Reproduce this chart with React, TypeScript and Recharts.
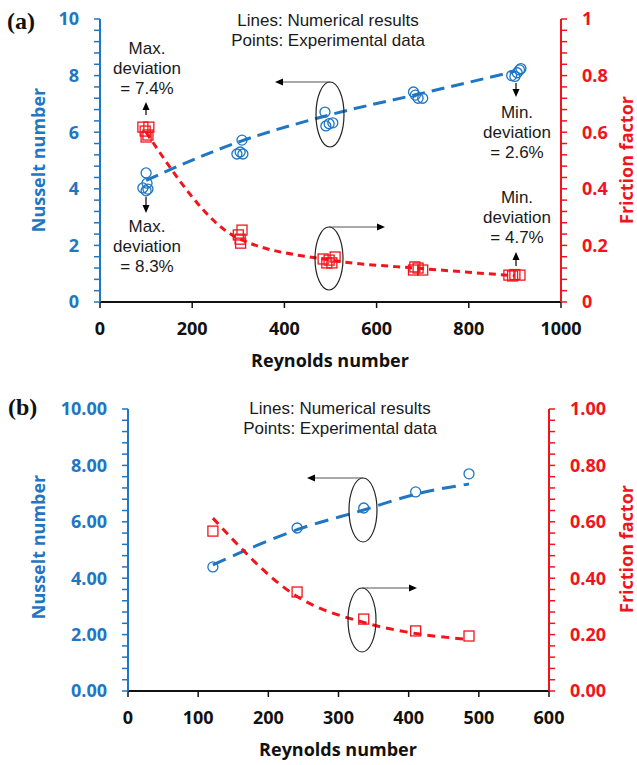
import React from "react";
import { ComposedChart, XAxis, YAxis, Line, Scatter } from "recharts";

const BLUE = "#1f76c2";
const RED = "#f2141c";
const FONT = "'Open Sans', 'Noto Sans', sans-serif";
const ARIAL = "'Liberation Sans', Arial, sans-serif";

// panel (a): experimental Nusselt number
const aNuExpRe = [93, 100, 102, 104, 100, 297, 304, 308, 310, 488, 490, 497, 505, 680, 684, 690, 700, 893, 900, 905, 910, 913];
const aNuExp = [4.03, 4.56, 4.2, 3.99, 3.93, 5.23, 5.3, 5.72, 5.23, 6.71, 6.22, 6.3, 6.33, 7.42, 7.31, 7.2, 7.2, 8.0, 7.97, 8.1, 8.2, 8.25];
// panel (a): experimental friction factor
const aFExpRe = [93, 98, 100, 104, 106, 300, 304, 305, 308, 484, 492, 497, 503, 510, 680, 683, 690, 700, 887, 895, 900, 911];
const aFExp = [0.618, 0.604, 0.583, 0.59, 0.618, 0.237, 0.222, 0.208, 0.254, 0.152, 0.138, 0.148, 0.138, 0.159, 0.113, 0.124, 0.12, 0.113, 0.095, 0.092, 0.097, 0.095];
// panel (a): numerical results
const aRe = [100, 300, 500, 700, 900];
const aNuNum = [4.3, 5.65, 6.62, 7.38, 8.15];
const aFNum = [0.6, 0.225, 0.148, 0.118, 0.093];

// panel (b)
const bRe = [121, 241, 336, 410, 486];
const bNuExp = [4.4, 5.78, 6.49, 7.06, 7.7];
const bFExp = [0.567, 0.351, 0.255, 0.213, 0.195];
const bNuNum = [4.47, 5.72, 6.42, 6.98, 7.34];
const bFNum = [0.613, 0.335, 0.243, 0.204, 0.183];

const aXTicks = [0, 200, 400, 600, 800, 1000];
const bXTicks = [0, 100, 200, 300, 400, 500, 600];
const nuTicks = Array.from({ length: 26 }, (_, i) => +(i * 0.4).toFixed(2));
const fTicks = Array.from({ length: 26 }, (_, i) => +(i * 0.04).toFixed(2));

const zip = (xs: number[], ys: number[]) => xs.map((re, i) => ({ re, y: ys[i] }));

const CircleMark = (p: any) => (
  <circle cx={p.cx} cy={p.cy} r={5} fill="none" stroke={BLUE} strokeWidth={1.3} />
);
const SquareMark = (p: any) => (
  <rect x={p.cx - 5} y={p.cy - 5} width={10} height={10} fill="none" stroke={RED} strokeWidth={1.3} />
);

const tickStyle = (fill: string) => ({ fill, fontSize: 18, fontWeight: 700, fontFamily: FONT });

function Arrow({ x1, y1, x2, y2, line = "#000" }: any) {
  const a = Math.atan2(y2 - y1, x2 - x1);
  const c = Math.cos(a), s = Math.sin(a);
  const bx = x2 - 8 * c, by = y2 - 8 * s;
  return (
    <g>
      <line x1={x1} y1={y1} x2={bx} y2={by} stroke={line} strokeWidth={1.2} />
      <polygon points={`${x2},${y2} ${bx - 3.5 * s},${by + 3.5 * c} ${bx + 3.5 * s},${by - 3.5 * c}`} fill="#000" />
    </g>
  );
}

function Note({ x, y, lines }: { x: number; y: number; lines: string[] }) {
  return (
    <g>
      {lines.map((t, i) => (
        <text key={i} x={x} y={y + i * 20} dy="0.35em" textAnchor="middle" fontSize={17} fontFamily={ARIAL} fill="#1a1a1a">
          {t}
        </text>
      ))}
    </g>
  );
}

function VTitle({ x, y, text, color }: any) {
  return (
    <text x={x} y={y} dy="0.35em" transform={`rotate(-90 ${x} ${y})`} textAnchor="middle" fontSize={18} fontWeight={700} fontFamily={FONT} fill={color}>
      {text}
    </text>
  );
}

function HTitle({ x, y, text }: any) {
  return (
    <text x={x} y={y} dy="0.35em" textAnchor="middle" fontSize={18} fontWeight={700} fontFamily={FONT} fill="#111">
      {text}
    </text>
  );
}

const axisCommon = { tickSize: 6, interval: 0 as const };

export default function App() {
  return (
    <div style={{ position: "absolute", left: 0, top: 0, width: 637, height: 765, background: "#fff" }}>
      <div style={{ position: "absolute", left: 0, top: 0 }}>
        <ComposedChart width={637} height={380} margin={{ top: 19, right: 0, bottom: 18, left: 0 }}>
          <XAxis type="number" dataKey="re" xAxisId="x" domain={[0, 1000]} ticks={aXTicks} height={60}
            {...axisCommon} tickMargin={14} tick={tickStyle("#111")}
            axisLine={{ stroke: "#111", strokeWidth: 2 }} tickLine={{ stroke: "#111", strokeWidth: 1.5 }} />
          <YAxis yAxisId="nu" orientation="left" width={100} domain={[0, 10]} ticks={nuTicks}
            {...axisCommon} tickMargin={15} tick={tickStyle(BLUE)}
            tickFormatter={(v: number) => (Math.round(v * 10) % 20 === 0 ? String(v) : "")}
            axisLine={{ stroke: BLUE, strokeWidth: 2 }} tickLine={{ stroke: BLUE, strokeWidth: 1.5 }} />
          <YAxis yAxisId="f" orientation="right" width={76} domain={[0, 1]} ticks={fTicks}
            {...axisCommon} tickMargin={15} tick={tickStyle(RED)}
            tickFormatter={(v: number) => (Math.round(v * 100) % 20 === 0 ? String(v) : "")}
            axisLine={{ stroke: RED, strokeWidth: 2 }} tickLine={{ stroke: RED, strokeWidth: 1.5 }} />
          <Scatter data={zip(aNuExpRe, aNuExp)} dataKey="y" xAxisId="x" yAxisId="nu" shape={CircleMark} isAnimationActive={false} />
          <Scatter data={zip(aFExpRe, aFExp)} dataKey="y" xAxisId="x" yAxisId="f" shape={SquareMark} isAnimationActive={false} />
          <Line data={zip(aRe, aNuNum)} dataKey="y" xAxisId="x" yAxisId="nu" type="monotone" stroke={BLUE}
            strokeWidth={3} strokeDasharray="13 7" dot={false} isAnimationActive={false} />
          <Line data={zip(aRe, aFNum)} dataKey="y" xAxisId="x" yAxisId="f" type="monotone" stroke={RED}
            strokeWidth={3} strokeDasharray="7 5" dot={false} isAnimationActive={false} />
        </ComposedChart>
      </div>
      <div style={{ position: "absolute", left: 0, top: 380 }}>
        <ComposedChart width={637} height={385} margin={{ top: 29, right: 0, bottom: 14, left: 0 }}>
          <XAxis type="number" dataKey="re" xAxisId="x" domain={[0, 600]} ticks={bXTicks} height={60}
            {...axisCommon} tickMargin={14} tick={tickStyle("#111")}
            axisLine={{ stroke: "#111", strokeWidth: 2 }} tickLine={{ stroke: "#111", strokeWidth: 1.5 }} />
          <YAxis yAxisId="nu" orientation="left" width={128} domain={[0, 10]} ticks={nuTicks}
            {...axisCommon} tickMargin={15} tick={tickStyle(BLUE)}
            tickFormatter={(v: number) => (Math.round(v * 10) % 20 === 0 ? v.toFixed(2) : "")}
            axisLine={{ stroke: BLUE, strokeWidth: 2 }} tickLine={{ stroke: BLUE, strokeWidth: 1.5 }} />
          <YAxis yAxisId="f" orientation="right" width={88} domain={[0, 1]} ticks={fTicks}
            {...axisCommon} tickMargin={15} tick={tickStyle(RED)}
            tickFormatter={(v: number) => (Math.round(v * 100) % 20 === 0 ? v.toFixed(2) : "")}
            axisLine={{ stroke: RED, strokeWidth: 2 }} tickLine={{ stroke: RED, strokeWidth: 1.5 }} />
          <Line data={zip(bRe, bNuNum)} dataKey="y" xAxisId="x" yAxisId="nu" type="monotone" stroke={BLUE}
            strokeWidth={3} strokeDasharray="14 8" dot={false} isAnimationActive={false} />
          <Line data={zip(bRe, bFNum)} dataKey="y" xAxisId="x" yAxisId="f" type="monotone" stroke={RED}
            strokeWidth={3} strokeDasharray="8 6" dot={false} isAnimationActive={false} />
          <Scatter data={zip(bRe, bNuExp)} dataKey="y" xAxisId="x" yAxisId="nu" shape={CircleMark} isAnimationActive={false} />
          <Scatter data={zip(bRe, bFExp)} dataKey="y" xAxisId="x" yAxisId="f" shape={SquareMark} isAnimationActive={false} />
        </ComposedChart>
      </div>
      <svg width={637} height={765} style={{ position: "absolute", left: 0, top: 0, pointerEvents: "none" }}>
        {/* panel (a) */}
        <text x={7} y={29} fontSize={24} fontWeight={700} fontFamily="'Liberation Serif', 'Times New Roman', serif" fill="#111">(a)</text>
        <Note x={328} y={20} lines={["Lines: Numerical results", "Points: Experimental data"]} />
        <Note x={147} y={48} lines={["Max.", "deviation", "= 7.4%"]} />
        <Arrow x1={146} y1={115} x2={146} y2={102} />
        <Arrow x1={146} y1={197} x2={146} y2={213} />
        <Note x={147} y={226} lines={["Max.", "deviation", "= 8.3%"]} />
        <Note x={517} y={112} lines={["Min.", "deviation", "= 2.6%"]} />
        <Arrow x1={516} y1={83} x2={516} y2={97} />
        <Note x={517} y={197} lines={["Min.", "deviation", "= 4.7%"]} />
        <Arrow x1={516} y1={266} x2={516} y2={252} />
        <ellipse cx={330} cy={114.5} rx={14} ry={32.5} fill="none" stroke="#222" strokeWidth={1.2} />
        <Arrow x1={330} y1={82} x2={275} y2={82} line="#555" />
        <ellipse cx={329} cy={258.5} rx={14} ry={31.5} fill="none" stroke="#222" strokeWidth={1.2} />
        <Arrow x1={329} y1={227} x2={385} y2={227} line="#555" />
        <VTitle x={39} y={160} text="Nusselt number" color={BLUE} />
        <VTitle x={627} y={160} text="Friction factor" color={RED} />
        <HTitle x={330} y={361} text="Reynolds number" />

        {/* panel (b) */}
        <text x={8} y={415} fontSize={24} fontWeight={700} fontFamily="'Liberation Serif', 'Times New Roman', serif" fill="#111">(b)</text>
        <Note x={340} y={408} lines={["Lines: Numerical results", "Points: Experimental data"]} />
        <ellipse cx={363} cy={510} rx={14} ry={32} fill="none" stroke="#222" strokeWidth={1.2} />
        <Arrow x1={363} y1={478} x2={307} y2={478} line="#555" />
        <ellipse cx={362} cy={620} rx={14} ry={32} fill="none" stroke="#222" strokeWidth={1.2} />
        <Arrow x1={362} y1={588} x2={417} y2={588} line="#555" />
        <VTitle x={39} y={547} text="Nusselt number" color={BLUE} />
        <VTitle x={627} y={549} text="Friction factor" color={RED} />
        <HTitle x={338} y={750} text="Reynolds number" />
      </svg>
    </div>
  );
}
